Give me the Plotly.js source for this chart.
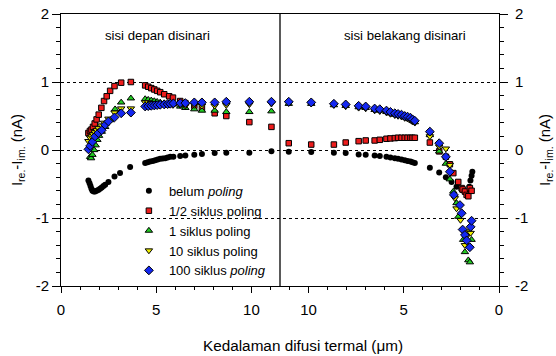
<!DOCTYPE html>
<html>
<head>
<meta charset="utf-8">
<script src="https://cdn.plot.ly/plotly-3.0.1.min.js"></script>
<style>html,body{margin:0;padding:0;background:#fff;}#chart{width:556px;height:356px;}</style>
</head>
<body>
<div id="chart"></div>
<script>
// Axis: front-side depth 0..11.5 left, back-side depth plotted reversed (23 - depth)
var AXIS_MAX = 23;
var DIVIDER = 11.5;
var xTickVals = [0, 5, 10, 13, 18, 23];
var xTickText = ['0', '5', '10', '10', '5', '0'];
var yTickVals = [-2, -1, 0, 1, 2];
var yTickText = ['-2', '-1', '0', '1', '2'];
var xTitle = 'Kedalaman difusi termal (\u03bcm)';
var yTitle = 'I<sub>re.</sub>-I<sub>im.</sub> (nA)';
var sideLabels = ['sisi depan disinari', 'sisi belakang disinari'];

var seriesNames = ['belum <i>poling</i>', '1/2 siklus poling', '1 siklus poling', '10 siklus poling', '100 siklus <i>poling</i>'];

// belum poling
var blackFrontD = [1.44,1.50,1.55,1.60,1.65,1.72,1.79,1.87,1.96,2.05,2.14,2.23,2.32,2.49,2.81,3.10,3.63,4.42,4.55,4.68,4.82,4.95,5.08,5.21,5.34,5.47,5.60,5.74,5.90,6.26,6.53,7.0,7.4,8.07,8.68,9.89,11.05];
var blackFrontY = [-0.45,-0.49,-0.53,-0.57,-0.60,-0.61,-0.61,-0.60,-0.59,-0.57,-0.55,-0.53,-0.51,-0.47,-0.39,-0.34,-0.25,-0.19,-0.18,-0.17,-0.16,-0.15,-0.14,-0.13,-0.125,-0.12,-0.11,-0.10,-0.10,-0.09,-0.08,-0.07,-0.06,-0.045,-0.04,-0.04,-0.02];
var blackBackD = [11.04,9.86,8.67,8.05,7.37,7.0,6.53,6.26,5.91,5.7,5.47,5.3,5.12,4.95,4.8,4.65,4.54,4.42,3.63,3.14,2.79,2.49,2.23,1.96,1.80,1.70,1.62,1.56,1.50,1.44,1.40];
var blackBackY = [-0.025,-0.03,-0.04,-0.045,-0.065,-0.07,-0.08,-0.09,-0.10,-0.11,-0.12,-0.13,-0.14,-0.15,-0.16,-0.17,-0.18,-0.19,-0.26,-0.33,-0.40,-0.47,-0.54,-0.59,-0.62,-0.64,-0.62,-0.54,-0.45,-0.38,-0.32];

// 1/2 siklus poling
var redFrontD = [1.44,1.52,1.60,1.68,1.77,1.87,1.98,2.12,2.26,2.40,2.58,2.81,3.16,3.67,4.42,4.58,4.74,4.90,5.05,5.21,5.42,5.68,5.88,6.26,6.53,7.0,7.4,8.07,8.68,9.89,11.05];
var redFrontY = [0.25,0.28,0.30,0.34,0.39,0.45,0.52,0.62,0.72,0.79,0.87,0.94,0.99,1.00,0.95,0.93,0.91,0.89,0.87,0.85,0.82,0.79,0.77,0.72,0.69,0.65,0.61,0.54,0.50,0.41,0.34];
var redBackD = [11.04,9.86,8.67,8.05,7.37,7.0,6.53,6.26,5.91,5.7,5.47,5.3,5.12,4.95,4.8,4.65,4.54,4.42,3.63,3.14,2.79,2.58,2.40,2.14,1.96,1.91,1.79,1.70,1.61,1.53,1.44];
var redBackY = [0.10,0.08,0.08,0.11,0.13,0.14,0.14,0.15,0.165,0.17,0.175,0.18,0.18,0.18,0.18,0.18,0.18,0.18,0.11,-0.02,-0.10,-0.21,-0.34,-0.47,-0.56,-0.58,-0.61,-0.66,-0.68,-0.56,-0.60];

// 1 siklus poling
var greenFrontD = [1.53,1.58,1.65,1.74,1.82,1.91,2.0,2.14,2.32,2.58,2.84,3.16,3.67,4.42,4.58,4.74,4.90,5.05,5.21,5.42,5.68,5.88,6.26,6.53,7.0,7.4,8.07,8.68,9.89,11.05];
var greenFrontY = [-0.10,-0.12,-0.07,0.0,0.07,0.15,0.21,0.27,0.34,0.44,0.60,0.70,0.76,0.75,0.74,0.73,0.72,0.71,0.70,0.69,0.68,0.67,0.64,0.62,0.60,0.58,0.58,0.56,0.56,0.57];
var greenBackD = [11.04,9.86,8.67,8.05,7.37,7.0,6.53,6.26,5.91,5.7,5.47,5.3,5.12,4.95,4.8,4.65,4.54,4.42,3.63,3.14,2.79,2.58,2.40,2.23,2.14,1.88,1.79,1.61,1.53,1.44];
var greenBackY = [0.68,0.68,0.66,0.65,0.63,0.62,0.59,0.58,0.56,0.54,0.52,0.51,0.50,0.48,0.47,0.455,0.43,0.41,0.22,-0.02,-0.20,-0.43,-0.61,-0.78,-0.98,-1.32,-1.50,-1.62,-1.65,-1.32];

// 10 siklus poling
var yellowFrontD = [1.44,1.53,1.60,1.68,1.77,1.87,1.96,2.12,2.26,2.49,2.81,3.16,3.67,4.42,4.58,4.74,4.90,5.05,5.21,5.42,5.68,5.88,6.26,6.53,7.0,7.4,8.07,8.68,9.89,11.05];
var yellowFrontY = [0.13,0.18,0.20,0.23,0.26,0.29,0.32,0.36,0.40,0.46,0.55,0.61,0.61,0.70,0.70,0.69,0.69,0.68,0.68,0.67,0.67,0.66,0.66,0.65,0.66,0.65,0.65,0.66,0.67,0.68];
var yellowBackD = [11.04,9.86,8.67,8.05,7.37,7.0,6.53,6.26,5.91,5.7,5.47,5.3,5.12,4.95,4.8,4.65,4.54,4.42,3.63,3.14,2.79,2.58,2.32,2.23,2.02,1.88,1.79,1.70,1.61,1.49];
var yellowBackY = [0.69,0.68,0.66,0.64,0.62,0.61,0.58,0.57,0.55,0.53,0.51,0.50,0.49,0.47,0.46,0.44,0.42,0.40,0.20,0.05,0.02,-0.22,-0.71,-0.86,-1.03,-1.19,-1.40,-1.27,-1.20,-1.22];

// 100 siklus poling
var blueFrontD = [1.44,1.53,1.65,1.79,1.96,2.14,2.32,2.49,2.81,3.16,3.67,4.42,4.58,4.74,4.90,5.05,5.21,5.42,5.60,5.74,5.90,6.26,6.53,7.0,7.4,8.07,8.68,9.89,11.05];
var blueFrontY = [0.01,0.06,0.12,0.20,0.25,0.29,0.37,0.42,0.48,0.54,0.55,0.64,0.645,0.65,0.655,0.66,0.665,0.67,0.675,0.68,0.685,0.69,0.69,0.70,0.70,0.70,0.71,0.71,0.71];
var blueBackD = [11.04,9.86,8.67,8.05,7.37,7.0,6.53,6.26,5.91,5.7,5.47,5.3,5.12,4.95,4.8,4.65,4.54,4.42,3.63,3.14,2.79,2.58,2.37,2.05,1.96,1.91,1.79,1.70,1.53,1.49,1.44];
var blueBackY = [0.71,0.70,0.68,0.67,0.65,0.64,0.61,0.60,0.58,0.56,0.54,0.53,0.52,0.50,0.49,0.475,0.45,0.43,0.27,0.10,-0.10,-0.32,-0.66,-0.81,-0.93,-1.17,-1.25,-1.33,-1.43,-1.13,-1.04];

function xs(front, back) {
  return front.concat(back.map(function (d) { return AXIS_MAX - d; }));
}

var styles = [
  {symbol: 'circle', color: '#000000', size: 6, lw: 0},
  {symbol: 'square', color: '#ee1c1c', size: 5.5, lw: 1},
  {symbol: 'triangle-up', color: '#22cc22', size: 6.5, lw: 1},
  {symbol: 'triangle-down', color: '#f0f000', size: 6.5, lw: 1},
  {symbol: 'diamond', color: '#1428f0', size: 6.8, lw: 1}
];
var allX = [xs(blackFrontD, blackBackD), xs(redFrontD, redBackD), xs(greenFrontD, greenBackD), xs(yellowFrontD, yellowBackD), xs(blueFrontD, blueBackD)];
var allY = [blackFrontY.concat(blackBackY), redFrontY.concat(redBackY), greenFrontY.concat(greenBackY), yellowFrontY.concat(yellowBackY), blueFrontY.concat(blueBackY)];

var traces = [];
for (var i = 0; i < 5; i++) {
  traces.push({
    type: 'scatter', mode: 'markers', name: seriesNames[i],
    x: allX[i], y: allY[i],
    // last series on the mirrored right axis (same range) so that axis is drawn
    yaxis: i === 4 ? 'y2' : 'y',
    marker: {symbol: styles[i].symbol, color: styles[i].color, size: styles[i].size,
             line: {color: '#000', width: styles[i].lw}},
    cliponaxis: false
  });
}

var commonY = {
  range: [-2, 2], tickvals: yTickVals, ticktext: yTickText,
  ticks: 'outside', ticklen: 8, tickcolor: '#000', tickwidth: 1,
  showline: true, linecolor: '#000', linewidth: 1,
  zeroline: false,
  minor: {dtick: 0.2, tick0: 0, ticks: 'outside', ticklen: 4, tickcolor: '#000', showgrid: false},
  tickfont: {size: 15, color: '#000'},
  title: {text: yTitle, font: {size: 15, color: '#000'}, standoff: 9}
};

var layout = {
  width: 556, height: 356,
  margin: {l: 61, r: 57, t: 14, b: 70},
  paper_bgcolor: '#fff', plot_bgcolor: '#fff',
  font: {family: 'Liberation Sans, Arial, sans-serif', color: '#000'},
  showlegend: true,
  legend: {x: 0.155, y: 0.405, xanchor: 'left', yanchor: 'top', bgcolor: 'rgba(0,0,0,0)',
           font: {size: 13, color: '#000'}, tracegroupgap: 0, itemsizing: 'trace'},
  xaxis: {
    range: [0, AXIS_MAX], tickvals: xTickVals, ticktext: xTickText,
    ticks: 'outside', ticklen: 6, tickcolor: '#000',
    showline: true, linecolor: '#000', linewidth: 1, mirror: true,
    showgrid: false, zeroline: false,
    minor: {dtick: 1, tick0: 0, ticks: 'outside', ticklen: 3, tickcolor: '#000', showgrid: false},
    tickfont: {size: 15, color: '#000'},
    ticklabelstandoff: 4
  },
  yaxis: Object.assign({}, commonY, {
    showgrid: true, gridcolor: '#000', griddash: 'dot', gridwidth: 1
  }),
  yaxis2: Object.assign({}, commonY, {
    overlaying: 'y', side: 'right', showgrid: false, ticklabelstandoff: 4,
    title: {text: yTitle, font: {size: 15, color: '#000'}, standoff: 12}
  }),
  shapes: [
    {type: 'line', xref: 'x', yref: 'paper', x0: DIVIDER, x1: DIVIDER, y0: 0, y1: 1,
     line: {color: '#000', width: 1.3}}
  ],
  annotations: [
    {text: sideLabels[0], x: 5.05, y: 1.68, xref: 'x', yref: 'y', showarrow: false,
     font: {size: 13.2, color: '#000'}},
    {text: sideLabels[1], x: 18.05, y: 1.68, xref: 'x', yref: 'y', showarrow: false,
     font: {size: 13.2, color: '#000'}},
    // x-axis title, placed as in the reference (slightly right of the plot centre)
    {text: xTitle, x: 0.5525, y: -0.217, xref: 'paper', yref: 'paper', showarrow: false,
     xanchor: 'center', yanchor: 'middle', font: {size: 15.3, color: '#000'}}
  ]
};

Plotly.newPlot('chart', traces, layout, {displayModeBar: false, staticPlot: true});
</script>
</body>
</html>
